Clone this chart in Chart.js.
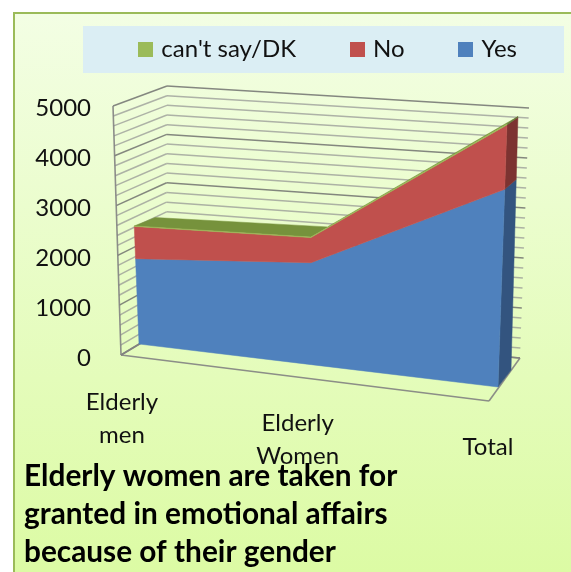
<!DOCTYPE html>
<html><head><meta charset="utf-8">
<style>html,body{margin:0;padding:0;background:#fff}#w{width:571px;height:572px;position:relative}</style>
<script src="https://cdn.jsdelivr.net/npm/chart.js@4"></script>
</head><body><div id="w"><canvas id="c" width="571" height="572"></canvas></div>
<script>
const categories = [['Elderly','men'],['Elderly','Women'],['Total']];
const yesValues = [1720, 1990, 3730];
const noValues = [650, 490, 1215];
const dkValues = [10, 10, 15];
const yTicks = [0, 1000, 2000, 3000, 4000, 5000];
const gridStep = 200;
const titleLines = ['Elderly women are taken for','granted in emotional affairs','because of their gender'];

const FONT = 'Lato';
const L = (a,b,t)=>[a[0]+(b[0]-a[0])*t, a[1]+(b[1]-a[1])*t];
const warp = u => u - 0.08*u*(1-u);
// room corners (walls and floor)
const R = {f0:[121,355], f1:[489,401], b0:[166,328], b1:[520,358], ft:[113,106], bt0:[167,86], bt1:[529,108]};
// body of the stacked area
const A = {fb0:[139,344], fb1:[498,387], ft0:[129,96], ft1:[507,122],
           bb0:[158,332.5], bb1:[511,370], bt0:[152,91], bt1:[518,114.5]};
function proj(u,v,back){
  const w = warp(u);
  const b = back ? L(A.bb0,A.bb1,w) : L(A.fb0,A.fb1,w);
  const t = back ? L(A.bt0,A.bt1,w) : L(A.ft0,A.ft1,w);
  return L(b,t,v);
}
function poly(ctx,pts,fill){
  ctx.beginPath();
  pts.forEach((p,i)=> i?ctx.lineTo(p[0],p[1]):ctx.moveTo(p[0],p[1]));
  ctx.closePath();
  ctx.fillStyle=fill; ctx.fill();
  ctx.strokeStyle=fill; ctx.lineWidth=0.5; ctx.stroke();
}
function seg(ctx,a,b,col,w){
  ctx.beginPath();ctx.moveTo(a[0],a[1]);ctx.lineTo(b[0],b[1]);
  ctx.strokeStyle=col;ctx.lineWidth=w;ctx.stroke();
}
function swatch(col){
  const s=document.createElement('canvas');s.width=15;s.height=15;
  const x=s.getContext('2d');x.fillStyle=col;x.fillRect(0,0,15,15);
  return s;
}
const sideCols = ['#33547f','#7c3331','#64793a'];
const topCol = '#76923c';

const scene = {
  id:'scene',
  beforeLayout(chart){
    const lg=chart.legend;
    if(lg && !lg._fixedFit){
      const f=lg.fit;
      lg.fit=function(){f.call(this);this.height=127.5;};
      lg._fixedFit=true;
    }
  },
  beforeDraw(chart){
    const ctx=chart.ctx;
    ctx.save();
    ctx.fillStyle='#fff';ctx.fillRect(0,0,571,572);
    const g=ctx.createLinearGradient(0,12,0,572);
    g.addColorStop(0,'#f3fee4');g.addColorStop(1,'#dcfba4');
    ctx.fillStyle=g;ctx.fillRect(14,13,557,559);
    ctx.strokeStyle='#9bbb59';ctx.lineWidth=2;
    ctx.beginPath();ctx.moveTo(14,572);ctx.lineTo(14,13);ctx.lineTo(571,13);ctx.stroke();
    ctx.fillStyle='#dbeef4';ctx.fillRect(83,26,481,47);
    ctx.restore();
  },
  beforeDatasetsDraw(chart){
    const ctx=chart.ctx, y=chart.scales.y;
    ctx.save();
    const max=y.max;
    for(let val=y.min;val<=max;val+=gridStep){
      const v=(y.bottom-y.getPixelForValue(val))/(y.bottom-y.top);
      const major=val%1000===0;
      const col=major?'rgba(105,105,105,.8)':'rgba(145,145,145,.7)';
      const a=L(R.f0,R.ft,v), b=L(R.b0,R.bt0,v), c=L(R.b1,R.bt1,v);
      seg(ctx,a,b,col,1.5); seg(ctx,b,c,col,1.5);
    }
    const fc='rgba(130,130,130,.9)';
    seg(ctx,R.f0,R.ft,fc,1.6);
    seg(ctx,R.f0,R.f1,fc,1.6);
    seg(ctx,R.f1,R.b1,fc,1.6);
    seg(ctx,R.f0,R.b0,fc,1.6);
    seg(ctx,R.b0,R.b1,fc,1.5);
    ctx.restore();
  },
  afterDatasetsDraw(chart){
    const ctx=chart.ctx, area=chart.chartArea, n=chart.data.datasets.length;
    const toUV=p=>[(p.x-area.left)/area.width,(area.bottom-p.y)/area.height];
    const rows=chart.data.datasets.map((d,i)=>chart.getDatasetMeta(i).data.map(toUV));
    const base=rows[0].map(p=>[p[0],(area.bottom-chart.scales.y.getPixelForValue(0))/area.height]);
    ctx.save();
    // top surface of the pile
    const top=rows[n-1];
    poly(ctx,[...top.map(p=>proj(p[0],p[1],false)),...[...top].reverse().map(p=>proj(p[0],p[1],true))],topCol);
    for(let i=0;i<n;i++){
      const hi=rows[i], lo=i?rows[i-1]:base, last=hi.length-1;
      // right end
      poly(ctx,[proj(lo[last][0],lo[last][1],false),proj(hi[last][0],hi[last][1],false),
                proj(hi[last][0],hi[last][1],true),proj(lo[last][0],lo[last][1],true)],sideCols[i]);
      // front face
      poly(ctx,[...hi.map(p=>proj(p[0],p[1],false)),...[...lo].reverse().map(p=>proj(p[0],p[1],false))],
           chart.data.datasets[i].backgroundColor);
    }
    ctx.restore();
  },
  afterDraw(chart){
    const ctx=chart.ctx, xs=chart.scales.x, area=chart.chartArea;
    ctx.save();
    ctx.font='24px '+FONT;ctx.fillStyle='#111';ctx.textAlign='center';ctx.textBaseline='middle';
    chart.data.labels.forEach((lab,i)=>{
      const w=warp((xs.getPixelForValue(i)-area.left)/area.width);
      const p=L([122,402],[488,447],w);
      lab.forEach((t,k)=>ctx.fillText(t,p[0],p[1]+k*33));
    });
    ctx.restore();
  }
};

new Chart(document.getElementById('c'),{
  type:'line',
  data:{labels:categories,datasets:[
    {label:'Yes',data:yesValues,backgroundColor:'#4f81bd',borderColor:'#4f81bd',borderWidth:0,showLine:false,pointRadius:0,fill:false,pointStyle:swatch('#4f81bd')},
    {label:'No',data:noValues,backgroundColor:'#c0504d',borderColor:'#c0504d',borderWidth:0,showLine:false,pointRadius:0,fill:false,pointStyle:swatch('#c0504d')},
    {label:"can't say/DK",data:dkValues,backgroundColor:'#9bbb59',borderColor:'#9bbb59',borderWidth:0,showLine:false,pointRadius:0,fill:false,pointStyle:swatch('#9bbb59')}
  ]},
  plugins:[scene],
  options:{
    responsive:false,animation:false,
    layout:{padding:{top:-19.5,left:24,right:-3,bottom:0}},
    plugins:{
      tooltip:{enabled:false},
      legend:{display:true,position:'top',align:'end',reverse:true,
        labels:{usePointStyle:true,pointStyleWidth:8,boxHeight:15,padding:57,color:'#111',font:{family:FONT,size:24}}},
      title:{display:true,position:'bottom',align:'start',text:titleLines,color:'#000',
        font:{family:FONT,size:29.8,weight:'bold',lineHeight:1.29},padding:{top:98,bottom:0}}
    },
    scales:{
      x:{display:false,offset:false,stacked:true},
      y:{stacked:true,min:0,max:5000,
        grid:{display:false,drawTicks:false},border:{display:false},
        afterFit(s){s.width=72;},
        afterBuildTicks(s){s.ticks=yTicks.map(v=>({value:v}));},
        ticks:{padding:5,color:'#111',font:{family:FONT,size:24},callback:v=>String(v)}}
    }
  }
});
</script></body></html>
